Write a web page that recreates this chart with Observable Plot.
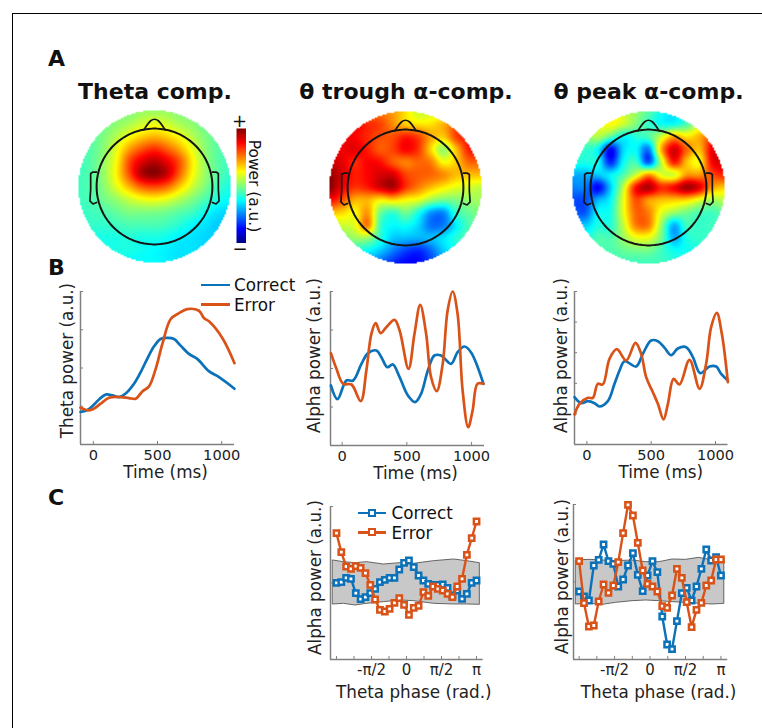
<!DOCTYPE html>
<html><head><meta charset="utf-8">
<script src="https://cdn.jsdelivr.net/npm/d3@7"></script>
<script src="https://cdn.jsdelivr.net/npm/@observablehq/plot@0.6"></script>
<style>
html,body{margin:0;padding:0;background:#fff}
#page{position:relative;width:762px;height:728px;overflow:hidden;font-family:"DejaVu Sans",sans-serif;color:#111}
#page>*{position:absolute}
.t{white-space:nowrap;line-height:1}
svg{background:transparent!important}
</style></head><body><div id="page"></div>
<script>
const BLUE="#0b72ba", RED="#d95319", AXIS="#808080";

// jet colour levels (0 = darkest blue ... 8 = darkest red)
const jetLevels=[0,1,2,3,4,5,6,7,8];
const jetColors=["#00007f","#0000ff","#007fff","#00ffff","#7fff7f","#ffff00","#ff7f00","#ff0000","#7f0000"];

// Topographies, on a 13x13 grid, in jet levels
const topoTheta=[
[4,4,4,4,4,4.2,4.2,4.2,4,4,4,4,4],
[3.7,3.8,3.9,4.1,4.3,4.6,4.8,4.6,4.3,4.1,3.8,3.7,3.7],
[3.6,3.7,4,4.4,4.9,5.3,5.5,5.3,4.9,4.4,4,3.7,3.6],
[3.6,3.7,4.1,4.8,5.7,6.3,6.6,6.2,5.6,4.8,4.1,3.7,3.5],
[3.5,3.7,4.2,5,6.4,7.2,7.5,7.1,6.3,5.1,4.2,3.7,3.5],
[3.5,3.7,4.2,5.1,6.4,7.6,7.9,7.4,6.2,5,4.2,3.7,3.4],
[3.5,3.7,4.1,4.8,5.6,6.3,6.5,6.2,5.4,4.6,4,3.5,3.2],
[3.5,3.6,3.9,4.2,4.6,4.9,5,4.8,4.4,4,3.6,3.2,3],
[3.4,3.5,3.6,3.8,4,4,4,3.9,3.7,3.5,3.1,2.8,2.7],
[3.3,3.4,3.4,3.5,3.6,3.6,3.6,3.5,3.3,3,2.8,2.6,2.6],
[3.2,3.2,3.2,3.2,3.3,3.2,3.2,3.1,2.9,2.8,2.7,2.6,2.6],
[3,3,3.1,3.2,3.2,3.1,3,2.9,2.8,2.8,2.7,2.6,2.6],
[3,3,3,3,3,3,3,2.9,2.8,2.8,2.7,2.6,2.6]];
const topoTrough=[
[6,6,6,6,6,5.8,5.2,4.6,4.6,4.6,5,5,5],
[7,7,7,6.7,6.5,5.9,5.4,5.2,5.2,5.6,6.2,6.2,6.2],
[7.3,7.2,7,6.7,6.4,6.4,6.8,6.5,5.7,5.4,6.5,6.8,6.8],
[7.2,7.1,7.2,6.8,6.3,6.5,7,6.6,5.3,4.2,5.5,6.8,6.8],
[7.4,7.2,6.7,7,6.9,6.3,6,6.2,6,5,5.4,6.2,6.2],
[7.8,7.3,6.8,7,7.3,7.3,6.5,6.3,6.2,5.9,5.5,5.5,5.5],
[7.9,7.1,6.6,6.8,7.3,7.6,6.6,6,5.5,5.1,4.8,4.7,4.5],
[7,6.4,5.6,5.6,5.1,5.3,5,4.8,4.2,3.9,4,4.2,4.3],
[5.5,5.3,5,5.8,3.9,3.4,3.9,3.2,2.2,2.1,3.4,3.8,4],
[4.5,4.6,4.8,6,3.5,3,3.1,2.7,1.9,2,2.9,3.6,3.8],
[3.8,3.9,4.2,4.2,3.3,2.6,2.5,2.4,2.5,2.8,3.3,3.6,3.6],
[3,3,3.2,3,2.6,2,1.5,1.3,1.8,2.6,3,3.2,3.2],
[2.5,2.5,2.5,2.3,1.8,1.3,1,1,1.5,2,2.5,2.5,2.5]];
const topoPeak=[
[5,5,5,5,4.6,4.2,3.7,3.1,2.9,3.4,4,4,4],
[4.5,4.6,4.8,5,4.6,4,3.4,3.1,3.1,3.6,4.5,5,5],
[3.8,4,4.4,3.7,3,3.3,3.6,4.6,5.7,5.2,5.6,6.4,6.5],
[3.4,3.4,3,1,2.7,3,2.0,5.6,7.3,6.2,5.5,7.1,7],
[3.2,3.2,3.1,1.3,3,3.5,1.7,4.5,6.8,5.5,5,7,7.3],
[2.4,2.4,2.6,2.9,3.6,4.6,5.8,4.8,4.7,5.8,5.8,6.4,6.8],
[2,2,1,2.6,4.5,6.9,7.6,6.7,7,7.7,7.2,5.8,5.4],
[1.6,1.6,2.4,3,4.8,6.4,5.8,5.5,5.4,5.3,4.8,4.3,4.5],
[1.8,1.7,3,3.2,4.8,6.2,6,4.8,4.2,3.9,3.6,3.5,3.8],
[2.5,2.6,3.2,3.3,4.5,6,6,4.2,2.4,3.5,3.4,3.5,3.5],
[3,3.1,3.6,3.6,4.2,4.8,4.8,3.9,2.4,3.2,3.4,3.4,3.4],
[3.5,3.6,3.6,3.6,3.8,3.9,3.9,3.5,3.1,3.1,3.2,3.2,3.2],
[3.5,3.5,3.5,3.5,3.5,3.5,3.5,3.5,3.3,3.2,3.2,3.2,3.2]];

// Head outline (unit: outer map radius)
const headR=0.762;
const noseX=[-0.14,-0.05,0,0.05,0.14], noseY=[0.745,0.865,0.885,0.865,0.745];
const earX=[-0.762,-0.81,-0.84,-0.84,-0.85,-0.81,-0.762], earY=[0.19,0.19,0.17,-0.04,-0.19,-0.23,-0.21];

// Panel B: time courses (a.u.)
const b1CorrectT=[-100,-50,0,50,100,150,200,250,317,369,420,472,524,577,629,680,745,810,900,980,1100];
const b1CorrectV=[98,103,118,138,151,148,143,153,183,218,258,295,318,321,318,298,273,258,221,203,168];
const b1ErrorT=[-100,-34,5,57,122,213,278,330,382,434,486,538,603,668,732,823,862,901,1005,1100];
const b1ErrorV=[111,103,108,123,141,143,140,138,160,175,228,303,378,396,408,403,381,371,321,245];

const b2CorrectT=[-87,-36,33,85,149,200,264,303,349,392,444,508,564,610,662,713,764,841,892,944,995,1092];
const b2CorrectV=[180,139,195,195,245,277,285,265,235,243,205,150,130,155,225,270,270,245,280,297,280,185];
const b2ErrorT=[-87,-44,8,72,144,187,226,259,297,341,405,444,513,559,603,649,687,731,777,815,854,892,931,974,1008,1046,1092];
const b2ErrorV=[277,230,185,183,133,225,335,367,337,355,377,345,230,335,422,335,205,163,245,405,462,395,165,55,105,185,185];

const b3CorrectT=[-96,-44,8,60,98,163,215,254,293,383,435,500,552,604,655,707,772,824,881,953,1005,1044,1096];
const b3CorrectV=[142,124,130,124,114,130,182,222,250,234,272,312,310,290,268,288,292,262,214,234,234,212,192];
const b3ErrorT=[-96,-57,8,47,85,124,176,233,306,378,422,461,513,552,596,630,674,720,798,876,927,966,1010,1049,1096];
const b3ErrorV=[90,122,140,140,182,180,257,286,252,305,272,202,157,122,75,122,197,180,254,167,242,352,395,332,187];

// Panel C: alpha power per theta-phase bin (a.u.)
const c1Correct=[230,232,245,242,199,181,187,199,212,232,239,245,245,270,290,297,277,252,237,227,224,224,225,215,192,207,182,197,230,237];
const c1Error=[379,322,279,272,280,275,259,224,180,149,144,152,170,184,164,134,155,161,202,191,219,212,207,197,187,219,242,314,364,414];
const c1BandX=[-3.29,-2.81,-2.29,-1.77,-1.02,-0.27,0.33,1.23,2.13,2.72,3.29];
const c1BandHi=[297,292,289,292,285,289,287,295,300,295,289];
const c1BandLo=[165,167,162,167,172,177,175,167,165,165,164];

const c2Correct=[204,189,177,282,299,345,295,287,219,240,282,319,254,205,252,295,262,129,45,31,115,199,215,177,219,272,330,297,307,252];
const c2Error=[295,169,99,102,174,225,200,222,292,379,464,432,350,267,227,219,204,160,155,192,272,245,172,97,149,170,222,237,300,300];
const c2BandX=[-3.27,-2.68,-2.09,-1.5,-0.77,-0.18,0.41,1,1.59,2.18,2.77,3.29];
const c2BandHi=[297,299,297,295,297,292,292,300,299,305,297,302];
const c2BandLo=[165,167,164,170,175,177,175,172,170,167,165,167];

const timeTicks=[0,500,1000];
const PI=Math.PI;
const phaseBins=d3.range(30).map(i=>-PI+i*2*PI/29);
const phaseTicks=[-1,-.75,-.5,-.25,0,.25,.5,.75,1].map(d=>d*PI);
const phaseLabels=new Map([[-.5*PI,"-π/2"],[0,"0"],[.5*PI,"π/2"],[PI,"π"]]);

const page=document.getElementById("page");
function put(el,x,y){el.style.left=x+"px";el.style.top=y+"px";page.appendChild(el);return el;}
function text(s,x,cy,{size=16.8,bold=false,anchor="start",rotate=0}={}){
  const d=document.createElement("div");d.className="t";d.textContent=s;
  d.style.fontSize=size+"px";if(bold)d.style.fontWeight="bold";
  const tx=anchor==="middle"?-50:0;
  d.style.transform=`translate(${tx}%,-50%)`+(rotate?` rotate(${rotate}deg)`:"");
  return put(d,x,cy);
}
const jet={type:"linear",domain:jetLevels,range:jetColors,interpolate:"rgb",clamp:true};

function sampler(grid){
  const cr=(a,b,c,d,t)=>b+.5*t*(c-a+t*(2*a-5*b+4*c-d+t*(3*(b-c)+d-a)));
  const at=(i,j)=>grid[Math.max(0,Math.min(12,j))][Math.max(0,Math.min(12,i))];
  return (x,y)=>{
    if(x*x+y*y>1) return NaN;
    const gx=(x+1)*6, gy=(1-y)*6, i=Math.floor(gx), j=Math.floor(gy), u=gx-i, v=gy-j;
    const row=k=>cr(at(i-1,k),at(i,k),at(i+1,k),at(i+2,k),u);
    return cr(row(j-1),row(j),row(j+1),row(j+2),v);
  };
}
function topo(grid,cx,cy){
  const R=76, pad=2;
  const head=d3.range(0,361,4).map(a=>[headR*Math.cos(a*PI/180),headR*Math.sin(a*PI/180)]);
  const p=Plot.plot({width:2*R+2*pad,height:2*R+2*pad,margin:pad,
    x:{domain:[-1,1],axis:null},y:{domain:[-1,1],axis:null},color:jet,
    marks:[
      Plot.raster({x1:-1,x2:1,y1:-1,y2:1,fill:sampler(grid),pixelSize:1.5,imageRendering:"auto"}),
      Plot.line(head,{x:"0",y:"1",stroke:"#151515",strokeWidth:2}),
      Plot.line(noseX,{x:noseX,y:noseY,stroke:"#151515",strokeWidth:1.7,curve:"catmull-rom"}),
      Plot.line(earX,{x:earX,y:earY,stroke:"#151515",strokeWidth:1.7}),
      Plot.line(earX,{x:earX.map(d=>-d),y:earY,stroke:"#151515",strokeWidth:1.7})
    ]});
  put(p,cx-R-pad,cy-R-pad);
}
function axes({xTicks,yTicks,xDomainTop,yTop,xFormat,xLabel,yLabel,xLabelDy,xLabelDx,yLabelDx,yLabelDy,ticksDy,tickFont}){
  return [
    Plot.ruleX([xDomainTop[0]],{y1:0,y2:yTop,stroke:AXIS,strokeWidth:1.5}),
    Plot.ruleY([0],{x1:xDomainTop[0],x2:xDomainTop[1],stroke:AXIS,strokeWidth:1.5}),
    Plot.ruleX(xTicks,{x:d=>d,y1:0,y2:yTop*0.02,stroke:AXIS,strokeWidth:1}),
    Plot.ruleY(yTicks,{y:d=>d,x1:xDomainTop[0],x2:xDomainTop[0]+(xDomainTop[1]-xDomainTop[0])*0.02,stroke:AXIS,strokeWidth:1}),
    Plot.axisX(xTicks,{tickSize:0,tickPadding:ticksDy,tickFormat:xFormat,fontSize:tickFont,label:null,color:"#222"}),
    Plot.text([xLabel],{frameAnchor:"bottom",dx:xLabelDx,dy:xLabelDy,fontSize:16.8,fill:"#222",lineAnchor:"middle"}),
    Plot.text([yLabel],{frameAnchor:"left",dx:yLabelDx,dy:yLabelDy,fontSize:16.8,fill:"#222",rotate:-90,lineAnchor:"middle",textAnchor:"middle"})
  ];
}
function timePanel({left,right,top,bottom,xDomain,yMax,nY,cT,cV,eT,eV,yLabel,yDx,yDy,xDx}){
  const mL=60,mR=14,mT=8,mB=50;
  const yTicks=d3.range(nY+1).map(i=>i*yMax/nY);
  const p=Plot.plot({width:right-left+mL+mR,height:bottom-top+mT+mB,
    marginLeft:mL,marginRight:mR,marginTop:mT,marginBottom:mB,
    style:{fontFamily:"DejaVu Sans",overflow:"visible"},
    x:{domain:xDomain,axis:null},y:{domain:[0,yMax],axis:null},
    marks:[
      ...axes({xTicks:timeTicks,yTicks,xDomainTop:xDomain,yTop:yMax,xFormat:d=>String(d),xLabel:"Time (ms)",yLabel,xLabelDy:28,xLabelDx:xDx,yLabelDx:yDx,yLabelDy:yDy,ticksDy:5,tickFont:14.6}),
      Plot.line(cV,{x:cT,y:cV,stroke:BLUE,strokeWidth:2.7,curve:"catmull-rom"}),
      Plot.line(eV,{x:eT,y:eV,stroke:RED,strokeWidth:2.7,curve:"catmull-rom"})
    ]});
  put(p,left-mL,top-mT);
}
function phasePanel({left,right,top,bottom,xDomain,yMax,cV,eV,bx,hi,lo,yDx,yDy,xDx}){
  const mL=60,mR=14,mT=8,mB=50;
  const p=Plot.plot({width:right-left+mL+mR,height:bottom-top+mT+mB,
    marginLeft:mL,marginRight:mR,marginTop:mT,marginBottom:mB,
    style:{fontFamily:"DejaVu Sans",overflow:"visible"},
    x:{domain:xDomain,axis:null},y:{domain:[0,yMax],axis:null},
    marks:[
      Plot.areaY(bx,{x:bx,y1:lo,y2:hi,fill:"#c8c8c8",stroke:"#444",strokeWidth:.8}),
      ...axes({xTicks:phaseTicks,yTicks:[0,yMax/2,yMax],xDomainTop:xDomain,yTop:yMax,
        xFormat:d=>phaseLabels.get(d)??"",xLabel:"Theta phase (rad.)",yLabel:"Alpha power (a.u.)",xLabelDy:33,xLabelDx:xDx,yLabelDx:yDx,yLabelDy:yDy,ticksDy:5,tickFont:15}),
      Plot.line(cV,{x:phaseBins,y:cV,stroke:BLUE,strokeWidth:2.4}),
      Plot.dot(cV,{x:phaseBins,y:cV,symbol:"square",r:3,stroke:BLUE,strokeWidth:2.5,fill:"#fff"}),
      Plot.line(eV,{x:phaseBins,y:eV,stroke:RED,strokeWidth:2.4}),
      Plot.dot(eV,{x:phaseBins,y:eV,symbol:"square",r:3,stroke:RED,strokeWidth:2.5,fill:"#fff"})
    ]});
  put(p,left-mL,top-mT);
}
function legendRow(label,color,x1,x2,y,tx,marker){
  const l=document.createElement("div");
  l.style.cssText=`width:${x2-x1}px;height:2.6px;background:${color}`;put(l,x1,y-1.3);
  if(marker){const m=document.createElement("div");
    m.style.cssText=`width:4px;height:4px;background:#fff;border:2.4px solid ${color}`;put(m,(x1+x2)/2-4.4,y-4.4);}
  text(label,tx,y);
}

// frame
const frame=document.createElement("div");
frame.style.cssText="width:760px;height:720px;border-top:1px solid #000;border-left:1px solid #000";
put(frame,12,13);

topo(topoTheta,154,186);
topo(topoTrough,404.5,186.5);
topo(topoPeak,648,186.5);

// colour bar
const cb=Plot.plot({width:10,height:115,margin:0,x:{domain:[0,1],axis:null},y:{domain:[0,8],axis:null},color:jet,
  marks:[Plot.raster({x1:0,x2:1,y1:0,y2:8,fill:(x,y)=>y,pixelSize:1})]});
put(cb,235.5,128);

timePanel({left:80,right:234,top:291,bottom:444,xDomain:[-100,1100],yMax:461,nY:4,cT:b1CorrectT,cV:b1CorrectV,eT:b1ErrorT,eV:b1ErrorV,yLabel:"Theta power (a.u.)",yDx:-13,yDy:-7.5,xDx:8});
timePanel({left:329.5,right:483.5,top:291,bottom:445,xDomain:[-90,1100],yMax:462,nY:4,cT:b2CorrectT,cV:b2CorrectV,eT:b2ErrorT,eV:b2ErrorV,yLabel:"Alpha power (a.u.)",yDx:-15.5,yDy:-13,xDx:8});
timePanel({left:573.5,right:727,top:291,bottom:444,xDomain:[-96,1097],yMax:459,nY:5,cT:b3CorrectT,cV:b3CorrectV,eT:b3ErrorT,eV:b3ErrorV,yLabel:"Alpha power (a.u.)",yDx:-12.5,yDy:-12.5,xDx:9.5});
phasePanel({left:330,right:482.7,top:506,bottom:659,xDomain:[-3.41,3.44],yMax:459,cV:c1Correct,eV:c1Error,bx:c1BandX,hi:c1BandHi,lo:c1BandLo,yDx:-15,yDy:-5.5,xDx:7});
phasePanel({left:572.5,right:726.7,top:504,bottom:659,xDomain:[-3.39,3.44],yMax:465,cV:c2Correct,eV:c2Error,bx:c2BandX,hi:c2BandHi,lo:c2BandLo,yDx:-10.5,yDy:-5.5,xDx:8});

// titles and letters
text("A",48,59,{size:22,bold:true});
text("B",48,268,{size:22,bold:true});
text("C",48,498,{size:22,bold:true});
text("Theta comp.",155,91.5,{size:22,bold:true,anchor:"middle"});
text("θ trough α-comp.",406,91.5,{size:22,bold:true,anchor:"middle"});
text("θ peak α-comp.",648.5,91.5,{size:22,bold:true,anchor:"middle"});
text("+",239.5,121,{size:18,anchor:"middle"});
text("−",240,249,{size:18,anchor:"middle"});
text("Power (a.u.)",253,186,{size:15.4,anchor:"middle",rotate:90});

// legends
legendRow("Correct",BLUE,201,230,285,234,false);
legendRow("Error",RED,201,230,304.5,234,false);
legendRow("Correct",BLUE,358,386,513,391.5,true);
legendRow("Error",RED,358,386,532.5,391.5,true);
</script></body></html>
